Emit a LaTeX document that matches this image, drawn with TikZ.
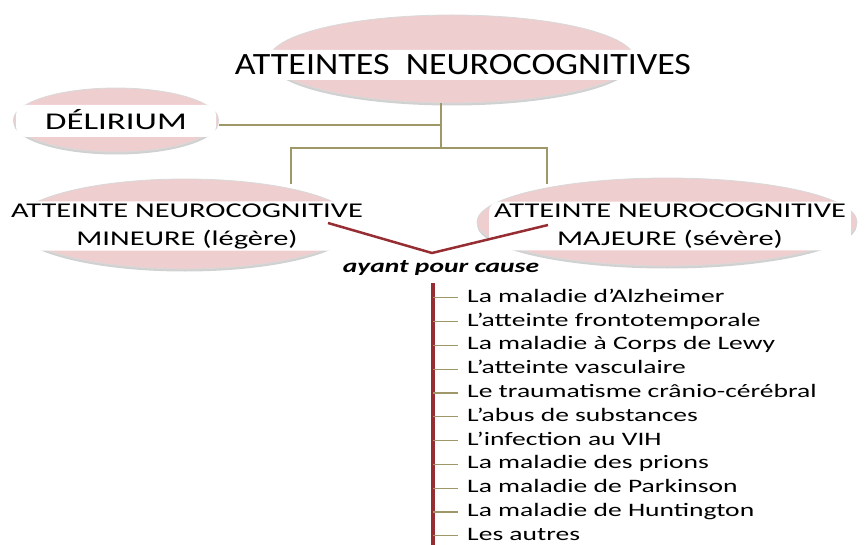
\documentclass[tikz,border=0pt]{standalone}
\usepackage{fontspec}
\setmainfont{Carlito}
\newfontfamily\titlefont{Carlito}[FakeStretch=1.16]
\newfontfamily\widefont{Carlito}[FakeStretch=1.45]
\usetikzlibrary{shapes.geometric, shadows}

\definecolor{linkolive}{RGB}{158,152,104}
\definecolor{causered}{RGB}{150,45,50}
\definecolor{ovalpink}{RGB}{238,206,207}

\pgfdeclareradialshading{ovalshade}{\pgfpoint{0bp}{0bp}}{%
  color(0bp)=(ovalpink); color(40bp)=(ovalpink); color(47bp)=(ovalpink!35!white); color(50bp)=(white)}

\tikzset{
  oval/.style={ellipse, shade, shading=ovalshade, draw=black!15, line width=0.8pt,
    drop shadow={shadow xshift=0pt, shadow yshift=-2.5pt, fill=black!40, opacity=0.45}},
  band/.style={fill=white, rounded corners=10pt, inner xsep=5pt, inner ysep=2pt, align=center},
  link/.style={draw=linkolive, line width=1.3pt},
  causeline/.style={draw=causered, line width=2.5pt},
  item/.style={anchor=west, inner sep=0pt, text height=13pt, text depth=4pt,
    font=\widefont\fontsize{19}{24}\selectfont}
}

\begin{document}
\begin{tikzpicture}[x=1pt, y=-1pt]
  \useasboundingbox (0,0) rectangle (866,545);

  % the ovals
  \node[oval, minimum width=365pt, minimum height=88pt] (topoval) at (452,59) {};
  \node[oval, minimum width=205pt, minimum height=64pt] (deloval) at (116,120) {};
  \node[oval, minimum width=340pt, minimum height=90pt] (minoval) at (185,224) {};
  \node[oval, minimum width=380pt, minimum height=88pt] (majoval) at (667,222) {};

  % the labels
  \node[band, inner ysep=4pt, text height=21pt, text depth=1pt,
    font=\titlefont\fontsize{31}{33}\selectfont] (title) at (463,65) {ATTEINTES\ \ NEUROCOGNITIVES};
  \node[band, inner ysep=3pt, text height=22pt, text depth=4pt, minimum width=200pt,
    font=\widefont\fontsize{24}{26}\selectfont] (delirium) at (116,121) {DÉLIRIUM};
  \node[band, font=\widefont\fontsize{21}{28}\selectfont] (mineure) at (187,226) {ATTEINTE NEUROCOGNITIVE\\MINEURE (légère)};
  \node[band, font=\widefont\fontsize{21}{28}\selectfont] (majeure) at (670,226) {ATTEINTE NEUROCOGNITIVE\\MAJEURE (sévère)};

  % the olive links
  \coordinate (hub) at (441,125);
  \coordinate (split) at (441,148);
  \coordinate (minfoot) at (291,184);
  \coordinate (majfoot) at (547,184);
  \draw[link] (topoval.south -| hub) -- (split);
  \draw[link] (deloval.east |- hub) -- (hub);
  \draw[link] (minfoot) |- (split) -| (majfoot);

  % the causes
  \coordinate (vleft) at (328,223);
  \coordinate (vee) at (432,253);
  \coordinate (vright) at (548,225);
  \draw[causeline] (vleft) -- (vee) -- (vright);
  \node[font=\widefont\bfseries\itshape\fontsize{19}{20}\selectfont] (ayant) at (441,268) {ayant pour cause};
  \coordinate (trunktop) at (433,283);
  \coordinate (trunkend) at (433,545);
  \draw[causeline, line width=3.5pt] (trunktop) -- (trunkend);
  \foreach \txt [count=\i] in {La maladie d’Alzheimer, L’atteinte frontotemporale,
      La maladie à Corps de Lewy, L’atteinte vasculaire, Le traumatisme crânio-cérébral,
      L’abus de substances, L’infection au VIH, La maladie des prions,
      La maladie de Parkinson, La maladie de Huntington, Les autres} {
    \node[item] (cause\i) at (467,274+23.8*\i) {\txt};
    \draw[link] (cause\i.west -| trunktop) -- ([xshift=-9pt]cause\i.west);
  }
\end{tikzpicture}
\end{document}
